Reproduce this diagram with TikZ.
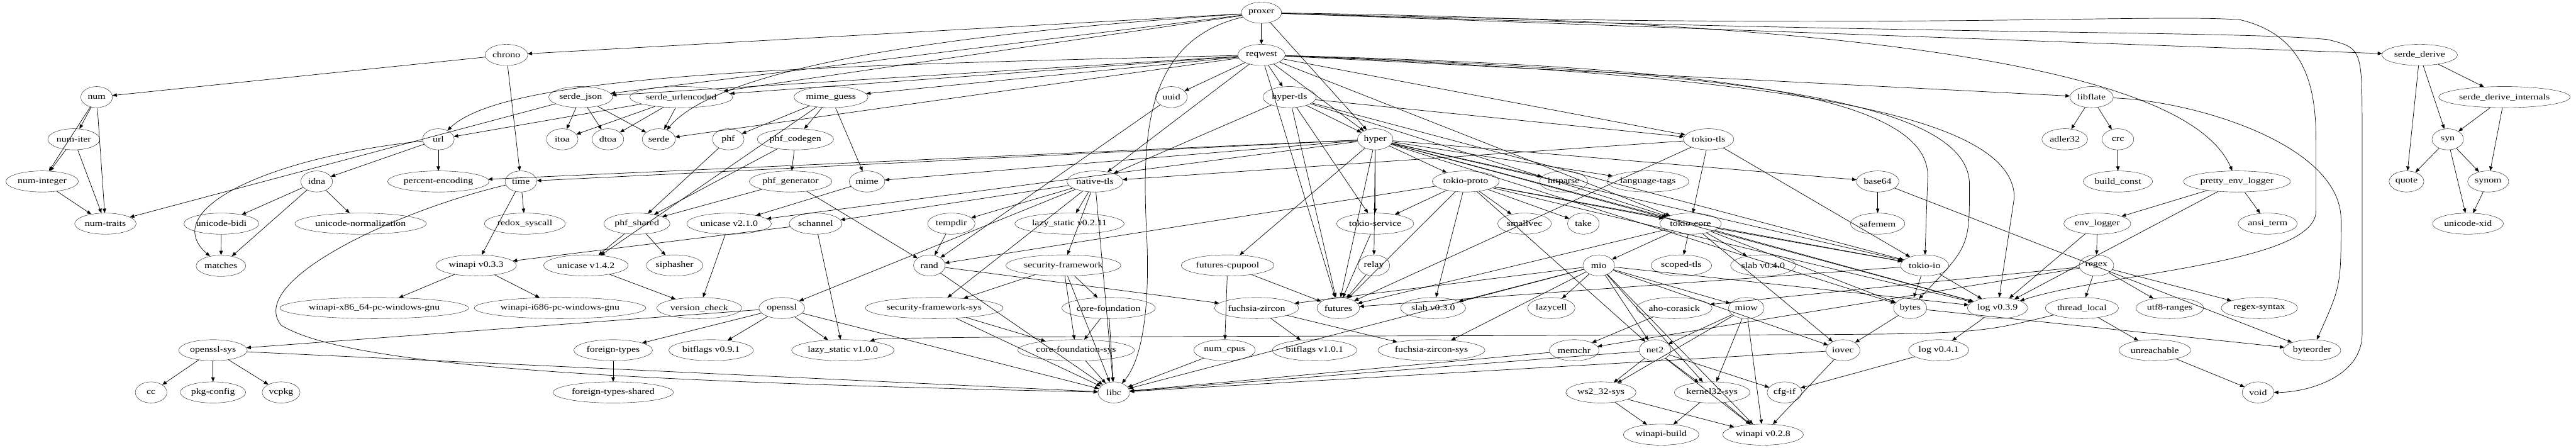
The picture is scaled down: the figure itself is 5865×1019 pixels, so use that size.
\documentclass[tikz,border=0pt]{standalone}
\usepackage{fontspec}
\setmainfont{Liberation Serif}[FakeStretch=1.22]
\usetikzlibrary{arrows.meta, shapes}

\begin{document}
\begin{tikzpicture}[x=0.75pt, y=-0.75pt,
    pkg/.style={draw, ellipse, minimum width=54pt, minimum height=36pt, inner xsep=2pt, inner ysep=0pt, font=\fontsize{14}{16}\selectfont},
    dep/.style={line width=0.75pt, -{Triangle[length=7.5pt, width=6pt]}}]

    % lo sfondo
    \path[fill=white] (0,0) rectangle (5865,1019);
    \useasboundingbox (0,0) rectangle (5865,1019);

    % riga 0 e 1
    \node[pkg] (proxer) at (2872,29) {proxer};
    \node[pkg] (chrono) at (1153,125) {chrono};
    \node[pkg] (reqwest) at (2872,125) {reqwest};
    \node[pkg] (serdederive) at (5509,125) {serde\_derive};

    % riga 2
    \node[pkg] (num) at (220,221) {num};
    \node[pkg] (serdejson) at (1322,221) {serde\_json};
    \node[pkg] (serdeurl) at (1551,221) {serde\_urlencoded};
    \node[pkg] (mimeguess) at (1892,221) {mime\_guess};
    \node[pkg] (uuid) at (2667,221) {uuid};
    \node[pkg] (hypertls) at (2936,221) {hyper-tls};
    \node[pkg] (libflate) at (4762,221) {libflate};
    \node[pkg] (sdinternals) at (5702,221) {serde\_derive\_internals};

    % riga 3
    \node[pkg] (numiter) at (168,317) {num-iter};
    \node[pkg] (url) at (998,317) {url};
    \node[pkg] (itoa) at (1280,317) {itoa};
    \node[pkg] (dtoa) at (1384,317) {dtoa};
    \node[pkg] (serde) at (1500,317) {serde};
    \node[pkg] (phf) at (1658,317) {phf};
    \node[pkg] (phfcodegen) at (1811,317) {phf\_codegen};
    \node[pkg] (hyper) at (3131,317) {hyper};
    \node[pkg] (tokiotls) at (3890,317) {tokio-tls};
    \node[pkg] (adler) at (4701,317) {adler32};
    \node[pkg] (crc) at (4822,317) {crc};
    \node[pkg] (syn) at (5573,317) {syn};

    % riga 4
    \node[pkg] (numinteger) at (96,413) {num-integer};
    \node[pkg] (idna) at (721,413) {idna};
    \node[pkg] (percent) at (998,413) {percent-encoding};
    \node[pkg] (time) at (1186,413) {time};
    \node[pkg] (phfgen) at (1800,413) {phf\_generator};
    \node[pkg] (mime) at (1974,413) {mime};
    \node[pkg] (nativetls) at (2493,413) {native-tls};
    \node[pkg] (tokioproto) at (3337,413) {tokio-proto};
    \node[pkg] (httparse) at (3560,413) {httparse};
    \node[pkg] (langtags) at (3752,413) {language-tags};
    \node[pkg] (base64) at (4275,413) {base64};
    \node[pkg] (buildconst) at (4822,413) {build\_const};
    \node[pkg] (prettylog) at (5093,413) {pretty\_env\_logger};
    \node[pkg] (quote) at (5479,413) {quote};
    \node[pkg] (synom) at (5665,413) {synom};

    % riga 5
    \node[pkg] (numtraits) at (240,509) {num-traits};
    \node[pkg] (unibidi) at (504,509) {unicode-bidi};
    \node[pkg] (uninorm) at (821,509) {unicode-normalization};
    \node[pkg] (redox) at (1195,509) {redox\_syscall};
    \node[pkg] (phfshared) at (1450,509) {phf\_shared};
    \node[pkg] (unicasetwo) at (1660,509) {unicase v2.1.0};
    \node[pkg] (schannel) at (1857,509) {schannel};
    \node[pkg] (tempdir) at (2166,509) {tempdir};
    \node[pkg] (lazyold) at (2435,509) {lazy\_static v0.2.11};
    \node[pkg] (tokioservice) at (3131,509) {tokio-service};
    \node[pkg] (smallvec) at (3471,509) {smallvec};
    \node[pkg] (take) at (3605,509) {take};
    \node[pkg] (tokiocore) at (3849,509) {tokio-core};
    \node[pkg] (safemem) at (4275,509) {safemem};
    \node[pkg] (envlogger) at (4775,509) {env\_logger};
    \node[pkg] (ansiterm) at (5163,509) {ansi\_term};
    \node[pkg] (unixid) at (5619,509) {unicode-xid};

    % riga 6
    \node[pkg] (matches) at (503,605) {matches};
    \node[pkg] (winapinew) at (1084,604) {winapi v0.3.3};
    \node[pkg] (unicaseone) at (1334,604) {unicase v1.4.2};
    \node[pkg] (siphasher) at (1536,604) {siphasher};
    \node[pkg] (rand) at (2116,604) {rand};
    \node[pkg] (secfw) at (2421,604) {security-framework};
    \node[pkg] (cpupool) at (2795,604) {futures-cpupool};
    \node[pkg] (relay) at (3128,604) {relay};
    \node[pkg] (mio) at (3640,604) {mio};
    \node[pkg] (scopedtls) at (3828,604) {scoped-tls};
    \node[pkg] (slabnew) at (4014,604) {slab v0.4.0};
    \node[pkg] (tokioio) at (4382,604) {tokio-io};
    \node[pkg] (regex) at (4773,604) {regex};

    % riga 7
    \node[pkg] (winx64) at (852,701) {winapi-x86\_64-pc-windows-gnu};
    \node[pkg] (wini686) at (1275,701) {winapi-i686-pc-windows-gnu};
    \node[pkg] (vcheck) at (1592,701) {version\_check};
    \node[pkg] (openssl) at (1780,701) {openssl};
    \node[pkg] (secfwsys) at (2127,701) {security-framework-sys};
    \node[pkg] (corefound) at (2524,701) {core-foundation};
    \node[pkg] (zircon) at (2861,701) {fuchsia-zircon};
    \node[pkg] (futures) at (3047,701) {futures};
    \node[pkg] (slabold) at (3263,701) {slab v0.3.0};
    \node[pkg] (lazycell) at (3532,701) {lazycell};
    \node[pkg] (aho) at (3812,701) {aho-corasick};
    \node[pkg] (miow) at (3976,701) {miow};
    \node[pkg] (bytes) at (4349,701) {bytes};
    \node[pkg] (logold) at (4548,701) {log v0.3.9};
    \node[pkg] (threadlocal) at (4740,701) {thread\_local};
    \node[pkg] (utfranges) at (4940,701) {utf8-ranges};
    \node[pkg] (regexsyntax) at (5144,701) {regex-syntax};

    % riga 8
    \node[pkg] (opensslsys) at (485,797) {openssl-sys};
    \node[pkg] (foreign) at (1396,797) {foreign-types};
    \node[pkg] (bitflagsold) at (1619,797) {bitflags v0.9.1};
    \node[pkg] (lazynew) at (1919,797) {lazy\_static v1.0.0};
    \node[pkg] (cfsys) at (2450,797) {core-foundation-sys};
    \node[pkg] (numcpus) at (2788,797) {num\_cpus};
    \node[pkg] (bitflagsnew) at (2993,797) {bitflags v1.0.1};
    \node[pkg] (zirconsys) at (3259,797) {fuchsia-zircon-sys};
    \node[pkg] (memchr) at (3584,797) {memchr};
    \node[pkg] (net2) at (3768,797) {net2};
    \node[pkg] (iovec) at (4196,797) {iovec};
    \node[pkg] (lognew) at (4414,797) {log v0.4.1};
    \node[pkg] (unreachable) at (4906,797) {unreachable};
    \node[pkg] (byteorder) at (5264,797) {byteorder};

    % riga 9 e 10
    \node[pkg] (cc) at (344,893) {cc};
    \node[pkg] (pkgconfig) at (485,893) {pkg-config};
    \node[pkg] (vcpkg) at (640,893) {vcpkg};
    \node[pkg] (foreignshared) at (1396,893) {foreign-types-shared};
    \node[pkg] (libc) at (2536,893) {libc};
    \node[pkg] (wstwo) at (3645,893) {ws2\_32-sys};
    \node[pkg] (kernel) at (3898,893) {kernel32-sys};
    \node[pkg] (cfgif) at (4063,893) {cfg-if};
    \node[pkg] (void) at (5141,893) {void};
    \node[pkg] (winbuild) at (3782,989) {winapi-build};
    \node[pkg] (winapiold) at (4014,989) {winapi v0.2.8};

    % dipendenze dritte
    \path[dep] (proxer) edge (chrono) edge (reqwest) edge (serdederive) edge (serdejson) edge (serdeurl) edge (hyper);
    \path[dep] (reqwest) edge (uuid) edge (hypertls) edge (hyper) edge (nativetls) edge (futures) edge (serdejson) edge (serdeurl) edge (serde) edge (mimeguess) edge (libflate) edge (tokiocore) edge (tokiotls);
    \path[dep] (hypertls) edge (hyper) edge (nativetls) edge (tokioservice) edge (futures) edge (tokiocore) edge (tokioio) edge (tokiotls);
    \path[dep] (hyper) edge (base64) edge (bytes) edge (futures) edge (cpupool) edge (httparse) edge (langtags) edge (logold) edge (mime) edge (percent) edge (relay) edge (time) edge (tokiocore) edge (tokioio) edge (tokioproto) edge (tokioservice) edge (unicasetwo);
    \path[dep] (tokiotls) edge (futures) edge (nativetls) edge (tokiocore) edge (tokioio);
    \path[dep] (tokioproto) edge (futures) edge (logold) edge (net2) edge (rand) edge (slabold) edge (smallvec) edge (take) edge (tokiocore) edge (tokioio) edge (tokioservice);
    \path[dep] (tokioservice) edge (futures);
    \path[dep] (tokiocore) edge (bytes) edge (futures) edge (iovec) edge (logold) edge (mio) edge (scopedtls) edge (slabnew) edge (tokioio);
    \path[dep] (tokioio) edge (bytes) edge (futures) edge (logold);
    \path[dep] (mio) edge (zircon) edge (zirconsys) edge (iovec) edge (kernel) edge (lazycell) edge (libc) edge (logold) edge (miow) edge (net2) edge (slabold) edge (winapiold);
    \path[dep] (miow) edge (kernel) edge (net2) edge (winapiold) edge (wstwo);
    \path[dep] (net2) edge (cfgif) edge (kernel) edge (libc) edge (winapiold) edge (wstwo);
    \path[dep] (wstwo) edge (winapiold) edge (winbuild);
    \path[dep] (kernel) edge (winapiold) edge (winbuild);
    \path[dep] (iovec) edge (libc) edge (winapiold);
    \path[dep] (bytes) edge (byteorder) edge (iovec);
    \path[dep] (logold) edge (lognew);
    \path[dep] (lognew) edge (cfgif);
    \path[dep] (zircon) edge (bitflagsnew) edge (zirconsys);
    \path[dep] (cpupool) edge (futures) edge (numcpus);
    \path[dep] (numcpus) edge (libc);
    \path[dep] (rand) edge (libc) edge (zircon);
    \path[dep] (tempdir) edge (rand);
    \path[dep] (relay) edge (futures);
    \path[dep] (uuid) edge (rand);
    \path[dep] (nativetls) edge (lazyold) edge (libc) edge (openssl) edge (schannel) edge (secfw) edge (secfwsys) edge (tempdir);
    \path[dep] (secfw) edge (corefound) edge (cfsys) edge (libc) edge (secfwsys);
    \path[dep] (secfwsys) edge (cfsys) edge (libc);
    \path[dep] (corefound) edge (cfsys) edge (libc);
    \path[dep] (cfsys) edge (libc);
    \path[dep] (openssl) edge (bitflagsold) edge (foreign) edge (lazynew) edge (libc) edge (opensslsys);
    \path[dep] (opensslsys) edge (cc) edge (libc) edge (pkgconfig) edge (vcpkg);
    \path[dep] (foreign) edge (foreignshared);
    \path[dep] (schannel) edge (lazynew) edge (winapinew);
    \path[dep] (winapinew) edge (wini686) edge (winx64);
    \path[dep] (time) edge (redox) edge (winapinew);
    \path[dep] (chrono) edge (num) edge (time);
    \path[dep] (num) edge (numinteger) edge (numiter) edge (numtraits);
    \path[dep] (numiter) edge (numinteger) edge (numtraits);
    \path[dep] (numinteger) edge (numtraits);
    \path[dep] (serdejson) edge (dtoa) edge (itoa) edge (numtraits) edge (serde);
    \path[dep] (serdeurl) edge (dtoa) edge (itoa) edge (serde) edge (url);
    \path[dep] (url) edge (idna) edge (percent);
    \path[dep] (idna) edge (matches) edge (unibidi) edge (uninorm);
    \path[dep] (unibidi) edge (matches);
    \path[dep] (mimeguess) edge (mime) edge (phf) edge (phfcodegen) edge (unicaseone);
    \path[dep] (mime) edge (unicasetwo);
    \path[dep] (phf) edge (phfshared);
    \path[dep] (phfcodegen) edge (phfgen) edge (phfshared);
    \path[dep] (phfgen) edge (phfshared) edge (rand);
    \path[dep] (phfshared) edge (siphasher) edge (unicaseone);
    \path[dep] (unicaseone) edge (vcheck);
    \path[dep] (unicasetwo) edge (vcheck);
    \path[dep] (serdederive) edge (quote) edge (syn) edge (sdinternals);
    \path[dep] (sdinternals) edge (syn) edge (synom);
    \path[dep] (syn) edge (quote) edge (synom) edge (unixid);
    \path[dep] (synom) edge (unixid);
    \path[dep] (libflate) edge (adler) edge (crc);
    \path[dep] (crc) edge (buildconst);
    \path[dep] (base64) edge (byteorder) edge (safemem);
    \path[dep] (prettylog) edge (ansiterm) edge (envlogger) edge (logold);
    \path[dep] (envlogger) edge (logold) edge (regex);
    \path[dep] (regex) edge (aho) edge (memchr) edge (regexsyntax) edge (threadlocal) edge (utfranges);
    \path[dep] (aho) edge (memchr);
    \path[dep] (memchr) edge (libc);
    \path[dep] (threadlocal) edge (unreachable);
    \path[dep] (unreachable) edge (void);

    % dipendenze lunghe, girate intorno ai nodi
    \draw[dep] (proxer) .. controls (2250,70) and (1650,140) .. (serde);
    \draw[dep] (proxer) .. controls (2610,90) and (2600,300) .. (2610,520) .. controls (2620,700) and (2600,820) .. (libc);
    \draw[dep] (proxer) .. controls (4500,50) and (5000,200) .. (prettylog);
    \draw[dep] (proxer) .. controls (4300,70) and (4900,30) .. (5100,45) .. controls (5250,80) and (5273,200) .. (5273,320) -- (5273,480) .. controls (5273,600) and (4800,620) .. (logold);
    \draw[dep] (proxer) .. controls (4400,80) and (5100,70) .. (5300,90) .. controls (5378,110) .. (5378,300) -- (5378,760) .. controls (5378,860) and (5250,893) .. (void);
    \draw[dep] (reqwest) .. controls (1800,150) and (1150,170) .. (url);
    \draw[dep] (reqwest) .. controls (3800,150) and (4389,200) .. (4389,400) -- (tokioio);
    \draw[dep] (reqwest) .. controls (3900,160) and (4484,220) .. (4484,420) .. controls (4484,560) .. (bytes);
    \draw[dep] (reqwest) .. controls (4000,170) and (4586,250) .. (4586,450) -- (logold);
    \draw[dep] (libflate) .. controls (5000,230) and (5330,330) .. (5330,500) .. controls (5330,650) .. (byteorder);
    \draw[dep] (threadlocal) .. controls (4500,760) .. (4000,762) -- (2300,767) .. controls (2000,770) .. (lazynew);
    \draw[dep] (time) .. controls (900,480) and (560,640) .. (640,740) .. controls (800,840) and (1500,870) .. (libc);
    \draw[dep] (url) .. controls (600,360) and (360,480) .. (matches);

\end{tikzpicture}
\end{document}
